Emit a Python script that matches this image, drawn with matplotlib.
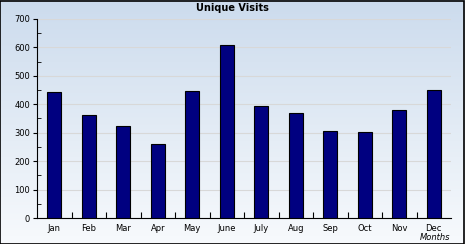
import numpy as np
import matplotlib
matplotlib.use('Agg')
import matplotlib.pyplot as plt
from matplotlib.ticker import MultipleLocator, FixedLocator

months = ['Jan', 'Feb', 'Mar', 'Apr', 'May', 'June', 'July', 'Aug', 'Sep', 'Oct', 'Nov', 'Dec']
visits = [443, 361, 324, 260, 448, 607, 394, 369, 306, 302, 380, 450]

fig = plt.figure(figsize=(4.65, 2.44), dpi=100)

# gradient background
bg = fig.add_axes([0, 0, 1, 1], zorder=0)
grad = np.linspace(0, 1, 256).reshape(-1, 1)
top = np.array([0.80, 0.86, 0.93])
bot = np.array([0.97, 0.98, 0.99])
img = top * (1 - grad[..., None]) + bot * grad[..., None]
bg.imshow(img, aspect='auto', extent=[0, 1, 0, 1])
bg.set_axis_off()
fig.patches.append(plt.Rectangle((0.001, 0.002), 0.997, 0.995, transform=fig.transFigure,
                                 fill=False, edgecolor='black', linewidth=1.2))

ax = fig.add_axes([37/465, 26/244, 414/465, 199/244], zorder=1)
ax.patch.set_alpha(0)
x = np.arange(len(months))
ax.bar(x, visits, width=0.4, color='#000080', edgecolor='black', linewidth=0.8, zorder=3)

ax.set_xlim(-0.5, len(months) - 0.5)
ax.set_ylim(0, 700)
ax.set_xticks(x)
ax.set_xticklabels(months, fontsize=6)
ax.xaxis.set_minor_locator(FixedLocator(x[:-1] + 0.5))
ax.tick_params(axis='x', which='major', length=0, pad=4)
ax.tick_params(axis='x', which='minor', direction='in', length=4, width=0.8)
ax.yaxis.set_major_locator(MultipleLocator(100))
ax.yaxis.set_minor_locator(MultipleLocator(50))
ax.tick_params(axis='y', which='major', direction='out', length=3, labelsize=6, pad=2)
ax.tick_params(axis='y', which='minor', direction='in', length=3)
ax.grid(axis='y', color='#d8d8d8', linewidth=0.8, zorder=0)
ax.spines['top'].set_visible(False)
ax.spines['right'].set_visible(False)

fig.text(232/465, 1 - 8/244, 'Unique Visits', ha='center', va='center', fontsize=7, fontweight='bold')
fig.text(435/465, 1 - 237/244, 'Months', ha='center', va='center', fontsize=6, style='italic')

fig.savefig('out.png', dpi=100)
